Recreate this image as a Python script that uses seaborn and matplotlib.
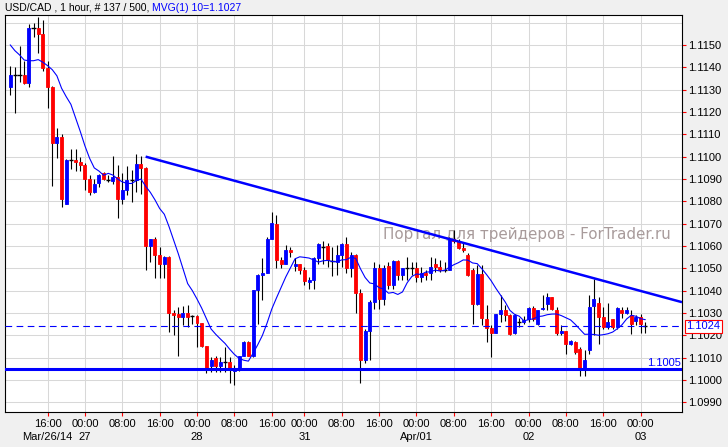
import numpy as np
import pandas as pd
import matplotlib
matplotlib.use("Agg")
import matplotlib.pyplot as plt
import matplotlib.transforms as mtrans
import seaborn as sns

# ---------------- data (USD/CAD, 1 hour bars) ----------------
opens = [
    1.11311, 1.11366, 1.11366, 1.11367, 1.11329, 1.11576, 1.11576, 1.11549, 1.11397, 1.11311,
    1.11060, 1.11090, 1.10790, 1.10986, 1.10986, 1.10978, 1.10964, 1.10901, 1.10841, 1.10882,
    1.10926, 1.10896, 1.10891, 1.10908, 1.10810, 1.10849, 1.10897, 1.10897, 1.10968, 1.10949,
    1.10599, 1.10629, 1.10558, 1.10521, 1.10551, 1.10300, 1.10293, 1.10282, 1.10300, 1.10285,
    1.10285, 1.10253, 1.10151, 1.10061, 1.10100, 1.10061, 1.10080, 1.10080, 1.10040, 1.10050,
    1.10109, 1.10169, 1.10109, 1.10402, 1.10469, 1.10480, 1.10633, 1.10700, 1.10539, 1.10521,
    1.10581, 1.10511, 1.10518, 1.10491, 1.10439, 1.10449, 1.10548, 1.10597, 1.10599, 1.10532,
    1.10529, 1.10559, 1.10608, 1.10499, 1.10559, 1.10387, 1.10088, 1.10218, 1.10350, 1.10499,
    1.10360, 1.10509, 1.10424, 1.10532, 1.10469, 1.10499, 1.10499, 1.10499, 1.10462, 1.10477,
    1.10477, 1.10517, 1.10506, 1.10494, 1.10494, 1.10633, 1.10621, 1.10592, 1.10560, 1.10491,
    1.10342, 1.10476, 1.10272, 1.10233, 1.10212, 1.10297, 1.10312, 1.10290, 1.10211, 1.10260,
    1.10260, 1.10272, 1.10323, 1.10248, 1.10317, 1.10338, 1.10372, 1.10312, 1.10212, 1.10218,
    1.10162, 1.10170, 1.10140, 1.10043, 1.10133, 1.10331, 1.10346, 1.10282, 1.10237, 1.10272,
    1.10237, 1.10312, 1.10301, 1.10290, 1.10263, 1.10282, 1.10240,
]
highs = [
    1.11408, 1.11400, 1.11497, 1.11430, 1.11594, 1.11597, 1.11627, 1.11612, 1.11430, 1.11315,
    1.11129, 1.11102, 1.10990, 1.11035, 1.11035, 1.10998, 1.10970, 1.10916, 1.10901, 1.10923,
    1.10931, 1.10916, 1.11002, 1.10961, 1.10928, 1.10956, 1.10941, 1.11010, 1.11002, 1.10955,
    1.10633, 1.10638, 1.10596, 1.10555, 1.10555, 1.10312, 1.10327, 1.10330, 1.10334, 1.10290,
    1.10290, 1.10256, 1.10151, 1.10103, 1.10106, 1.10103, 1.10148, 1.10103, 1.10066, 1.10107,
    1.10172, 1.10172, 1.10402, 1.10476, 1.10548, 1.10638, 1.10753, 1.10738, 1.10551, 1.10604,
    1.10596, 1.10548, 1.10521, 1.10506, 1.10461, 1.10551, 1.10614, 1.10623, 1.10611, 1.10596,
    1.10604, 1.10614, 1.10638, 1.10574, 1.10566, 1.10409, 1.10230, 1.10357, 1.10529, 1.10521,
    1.10514, 1.10529, 1.10539, 1.10539, 1.10500, 1.10551, 1.10529, 1.10529, 1.10506, 1.10491,
    1.10551, 1.10544, 1.10536, 1.10529, 1.10641, 1.10671, 1.10633, 1.10611, 1.10570, 1.10499,
    1.10514, 1.10514, 1.10334, 1.10245, 1.10297, 1.10379, 1.10334, 1.10297, 1.10297, 1.10279,
    1.10285, 1.10327, 1.10331, 1.10312, 1.10379, 1.10387, 1.10372, 1.10327, 1.10245, 1.10218,
    1.10177, 1.10173, 1.10148, 1.10133, 1.10379, 1.10454, 1.10372, 1.10327, 1.10346, 1.10272,
    1.10327, 1.10327, 1.10327, 1.10312, 1.10290, 1.10297, 1.10260,
]
lows = [
    1.11274, 1.11195, 1.11333, 1.11326, 1.11314, 1.11534, 1.11463, 1.11385, 1.11218, 1.10868,
    1.10995, 1.10774, 1.10786, 1.10946, 1.10934, 1.10935, 1.10849, 1.10826, 1.10837, 1.10864,
    1.10894, 1.10886, 1.10879, 1.10727, 1.10789, 1.10827, 1.10797, 1.10841, 1.10831, 1.10491,
    1.10528, 1.10457, 1.10457, 1.10457, 1.10215, 1.10201, 1.10107, 1.10245, 1.10238, 1.10250,
    1.10148, 1.10148, 1.10029, 1.10035, 1.10035, 1.10035, 1.10035, 1.09986, 1.09976, 1.10040,
    1.10105, 1.10105, 1.10101, 1.10252, 1.10357, 1.10480, 1.10633, 1.10499, 1.10499, 1.10518,
    1.10551, 1.10488, 1.10473, 1.10424, 1.10405, 1.10409, 1.10521, 1.10521, 1.10506, 1.10464,
    1.10469, 1.10506, 1.10480, 1.10461, 1.10300, 1.09986, 1.10076, 1.10088, 1.10319, 1.10319,
    1.10334, 1.10405, 1.10409, 1.10446, 1.10449, 1.10447, 1.10469, 1.10439, 1.10439, 1.10447,
    1.10447, 1.10484, 1.10484, 1.10484, 1.10491, 1.10611, 1.10586, 1.10574, 1.10466, 1.10252,
    1.10334, 1.10245, 1.10170, 1.10103, 1.10208, 1.10260, 1.10263, 1.10203, 1.10207, 1.10237,
    1.10250, 1.10260, 1.10263, 1.10245, 1.10312, 1.10312, 1.10312, 1.10200, 1.10203, 1.10118,
    1.10157, 1.10118, 1.10017, 1.10017, 1.10118, 1.10200, 1.10162, 1.10230, 1.10230, 1.10230,
    1.10230, 1.10275, 1.10297, 1.10207, 1.10245, 1.10212, 1.10212,
]
closes = [
    1.11367, 1.11366, 1.11366, 1.11329, 1.11576, 1.11576, 1.11549, 1.11397, 1.11311, 1.11060,
    1.11090, 1.10810, 1.10986, 1.10986, 1.10978, 1.10964, 1.10901, 1.10841, 1.10879, 1.10919,
    1.10901, 1.10896, 1.10908, 1.10810, 1.10849, 1.10897, 1.10897, 1.10968, 1.10949, 1.10599,
    1.10629, 1.10558, 1.10521, 1.10551, 1.10300, 1.10290, 1.10282, 1.10300, 1.10282, 1.10285,
    1.10253, 1.10151, 1.10051, 1.10088, 1.10061, 1.10080, 1.10080, 1.10043, 1.10050, 1.10107,
    1.10169, 1.10109, 1.10402, 1.10469, 1.10480, 1.10633, 1.10703, 1.10539, 1.10521, 1.10581,
    1.10574, 1.10521, 1.10491, 1.10444, 1.10449, 1.10548, 1.10608, 1.10597, 1.10539, 1.10532,
    1.10559, 1.10608, 1.10499, 1.10559, 1.10387, 1.10088, 1.10218, 1.10350, 1.10499, 1.10360,
    1.10499, 1.10424, 1.10532, 1.10469, 1.10499, 1.10499, 1.10499, 1.10462, 1.10477, 1.10469,
    1.10506, 1.10506, 1.10491, 1.10494, 1.10633, 1.10621, 1.10592, 1.10583, 1.10469, 1.10342,
    1.10476, 1.10275, 1.10233, 1.10212, 1.10297, 1.10312, 1.10290, 1.10207, 1.10290, 1.10260,
    1.10270, 1.10323, 1.10272, 1.10312, 1.10323, 1.10372, 1.10317, 1.10212, 1.10218, 1.10162,
    1.10173, 1.10125, 1.10050, 1.10088, 1.10327, 1.10361, 1.10282, 1.10237, 1.10260, 1.10237,
    1.10323, 1.10301, 1.10312, 1.10252, 1.10282, 1.10252, 1.10240,
]
# closes of the bars just before the visible window (needed for the MA start)
prior_closes = [1.11625, 1.11557, 1.11559, 1.11606, 1.11576, 1.11499, 1.11517, 1.11461, 1.11240]
ma_period = 10

bid_price = 1.1024
support_level = 1.1005
trend_x = [29, 125]
trend_y = [1.1100, 1.10455]

tick_bars = [8, 16, 24, 32, 40, 48, 56, 63, 71, 79, 87, 95, 103, 111, 119, 127, 135]
tick_times = ["16:00", "00:00", "08:00", "16:00", "00:00", "08:00", "16:00", "00:00", "08:00",
              "16:00", "00:00", "08:00", "16:00", "00:00", "08:00", "16:00", "00:00"]
date_bars = [8, 16, 40, 63, 87, 111, 135]
date_labels = ["Mar/26/14", "27", "28", "31", "Apr/01", "02", "03"]
price_ticks = [1.0990, 1.1000, 1.1010, 1.1020, 1.1030, 1.1040, 1.1050, 1.1060, 1.1070,
               1.1080, 1.1090, 1.1100, 1.1110, 1.1120, 1.1130, 1.1140, 1.1150]
title_main = "USD/CAD , 1 hour, # 137 / 500, "
title_ind = "MVG(1) 10=1.1027"
watermark = "Портал для трейдеров - ForTrader.ru"

# ---------------- style ----------------
sns.set_theme(style="white")
plt.rcParams['font.family'] = ['Liberation Sans', 'DejaVu Sans']

W, H = 728, 447
fig = plt.figure(figsize=(W / 100, H / 100), dpi=100, facecolor='#f0f0f0')
L_px, R_px, T_px, B_px = 4.5, 682.0, 15.0, 411.7
ax = fig.add_axes([L_px / W, 1 - B_px / H, (R_px - L_px) / W, (B_px - T_px) / H])
ax.set_facecolor('white')

BLUE = '#0000ff'
RED = '#ff0000'

o = np.array(opens); h = np.array(highs); l = np.array(lows); c = np.array(closes)
x = np.arange(len(c))
doji = np.isclose(o, c, atol=1e-7)
cols = np.where(c > o, BLUE, RED)

# grid
ax.set_yticks(price_ticks)
ax.set_yticklabels([f"{v:.4f}" for v in price_ticks])
ax.set_xticks(tick_bars)
ax.set_xticklabels(tick_times)
ax.grid(True, color='#d8d8d8', lw=0.75)
ax.set_axisbelow(True)
ax.axhline(1.1160, color='#d8d8d8', lw=0.75, zorder=0.5)

# watermark
ax.text(383 / W, 1 - 234 / H, watermark, transform=fig.transFigure, ha='left', va='center',
        fontsize=10.9, color='#a89b9b', family=['DejaVu Sans'], zorder=1)

# candles
ax.vlines(x, l, h, color='black', lw=0.8, zorder=2)
nd = ~doji
ax.bar(x[nd], (c - o)[nd], bottom=o[nd], width=0.64, color=cols[nd], edgecolor=cols[nd],
       linewidth=0.6, zorder=3)
ax.hlines(c[doji], x[doji] - 0.45, x[doji] + 0.45, color='black', lw=1.0, zorder=3)

# moving average
full = pd.Series(list(prior_closes) + list(closes))
ma = full.rolling(ma_period).mean().iloc[len(prior_closes):].to_numpy()
df = pd.DataFrame({'bar': x, 'ma': ma})
sns.lineplot(data=df, x='bar', y='ma', color=BLUE, lw=0.8, ax=ax, zorder=4)

# limits
px_per_bar = 4.67
x0_px = 10.2
xmin = (L_px - x0_px) / px_per_bar
xmax = (R_px - x0_px) / px_per_bar
ax.set_xlim(xmin, xmax)
ax.set_ylim(1.098573, 1.116345)

# objects: trendline, support, bid line
slope = (trend_y[1] - trend_y[0]) / (trend_x[1] - trend_x[0])
ax.plot([trend_x[0], xmax], [trend_y[0], trend_y[0] + slope * (xmax - trend_x[0])],
        color=BLUE, lw=1.8, zorder=5, solid_capstyle='butt')
ax.axhline(support_level, color=BLUE, lw=2.2, zorder=5)
ax.axhline(bid_price, color=BLUE, lw=0.8, ls=(0, (6, 4)), zorder=5)

blend = mtrans.blended_transform_factory(ax.transAxes, ax.transData)
ax.text((681 - L_px) / (R_px - L_px), support_level + 0.00005, f"{support_level:.4f}",
        transform=blend, ha='right', va='bottom', color=BLUE, fontsize=8, zorder=6)

# axes cosmetics
ax.set_xlabel(''); ax.set_ylabel('')
ax.yaxis.tick_right()
ax.tick_params(axis='y', which='major', color=RED, labelcolor='black', length=3, width=0.8,
               pad=1.2, labelsize=8, left=False, right=True)
ax.tick_params(axis='x', which='major', color=RED, labelcolor='black', length=3, width=0.8,
               pad=2.0, labelsize=8, bottom=True)
for s in ax.spines.values():
    s.set_color('black'); s.set_linewidth(0.8); s.set_visible(True)

# bid label box on the price axis
ax.text(1 + 4.5 / (R_px - L_px), bid_price, f"{bid_price:.4f}", transform=blend, ha='left',
        va='center', color=BLUE, fontsize=8, zorder=10, clip_on=False,
        bbox=dict(boxstyle='square,pad=0.12', fc='white', ec=RED, lw=0.8))

# date row
xtrans = ax.get_xaxis_transform()
for b, lab in zip(date_bars, date_labels):
    ax.text(b, -(437.3 - B_px) / (B_px - T_px), lab, transform=xtrans, ha='center',
            va='center', fontsize=8, color='black', clip_on=False)

# title
t1 = fig.text(4.7 / W, 1 - 7.8 / H, title_main, ha='left', va='center', fontsize=7.5, color='black')
fig.canvas.draw()
bb = t1.get_window_extent()
fig.text(bb.x1 / W, 1 - 7.8 / H, title_ind, ha='left', va='center', fontsize=7.5, color=BLUE)

fig.savefig('out.png', dpi=100, facecolor=fig.get_facecolor())
